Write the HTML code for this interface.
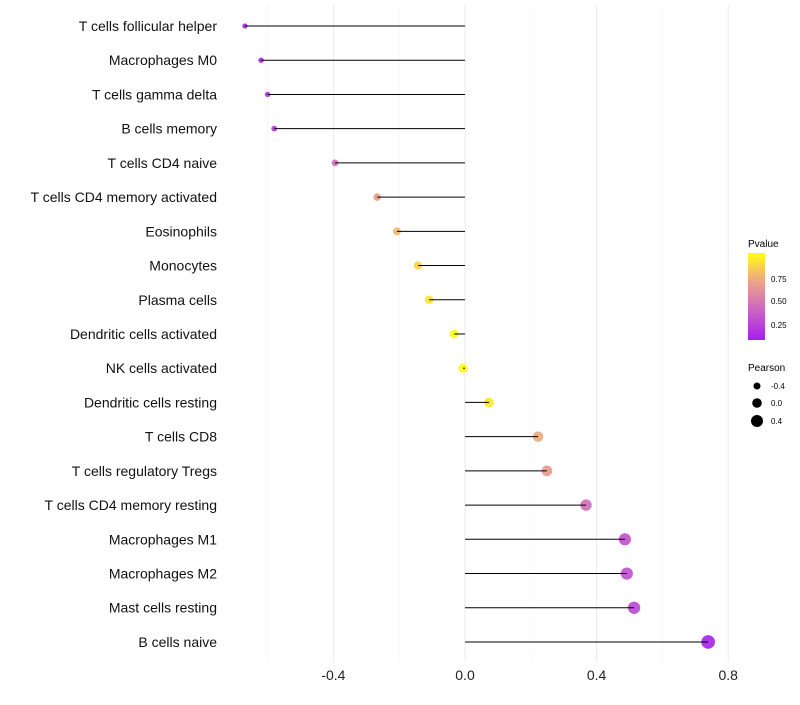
<!DOCTYPE html>
<html><head><meta charset="utf-8"><style>
body{margin:0;background:#fff;font-family:"Liberation Sans",sans-serif}
</style></head><body>
<svg id="chart" width="800" height="700" xmlns="http://www.w3.org/2000/svg" font-family="Liberation Sans, sans-serif">
<defs><linearGradient id="pg" x1="0" y1="1" x2="0" y2="0">
<stop offset="0" stop-color="#a41ff0"/><stop offset="0.35" stop-color="#cc66c0"/><stop offset="0.7" stop-color="#eeaa80"/><stop offset="1" stop-color="#ffff10"/></linearGradient></defs>
<g id="grid"></g><g id="dots"></g><g id="marks"></g><g id="labels"></g>
<g>
<text x="748" y="247" font-size="10">Pvalue</text>
<rect x="748" y="253" width="17" height="87" fill="url(#pg)"/>
<text x="771" y="282" font-size="8">0.75</text>
<text x="771" y="304" font-size="8">0.50</text>
<text x="771" y="328" font-size="8">0.25</text>
</g>
<g>
<text x="748" y="371" font-size="10">Pearson</text>
<circle cx="757" cy="386" r="3.5"/><text x="771" y="389" font-size="8">-0.4</text>
<circle cx="757" cy="403" r="4.8"/><text x="771" y="406" font-size="8">0.0</text>
<circle cx="757" cy="421" r="6"/><text x="771" y="424" font-size="8">0.4</text>
</g>
</svg>
<script>
const categories=["T cells follicular helper","Macrophages M0","T cells gamma delta","B cells memory","T cells CD4 naive","T cells CD4 memory activated","Eosinophils","Monocytes","Plasma cells","Dendritic cells activated","NK cells activated","Dendritic cells resting","T cells CD8","T cells regulatory  Tregs ","T cells CD4 memory resting","Macrophages M1","Macrophages M2","Mast cells resting","B cells naive"];
const pearson=[-0.669,-0.62,-0.60,-0.58,-0.395,-0.267,-0.207,-0.143,-0.109,-0.033,-0.006,0.073,0.222,0.249,0.368,0.486,0.492,0.514,0.739];
const pvalue=[0.05,0.1,0.12,0.15,0.4,0.65,0.75,0.85,0.9,0.97,0.99,0.92,0.7,0.62,0.4,0.25,0.25,0.2,0.03];
const ticks=[-0.4,0,0.4,0.8];
const tickLabels=["-0.4","0.0","0.4","0.8"];
const minor=[-0.6,-0.2,0.2,0.6];
const NS="http://www.w3.org/2000/svg";
const xs=v=>465+v*329;
const ys=i=>26+i*34.22;
function el(t,a,p){const e=document.createElementNS(NS,t);for(const k in a)e.setAttribute(k,a[k]);document.getElementById(p).appendChild(e);return e;}
function col(p){const st=[[0,[164,31,240]],[0.35,[204,102,192]],[0.7,[238,170,128]],[1,[255,255,16]]];
 for(let i=1;i<st.length;i++){if(p<=st[i][0]){const t=(p-st[i-1][0])/(st[i][0]-st[i-1][0]);const c=st[i-1][1].map((v,j)=>Math.round(v+(st[i][1][j]-v)*t));return `rgb(${c})`;}}return "rgb(255,255,16)";}
minor.forEach(v=>{const l=el('line',{x1:xs(v),x2:xs(v),y1:5,y2:662,stroke:'#f4f4f4','stroke-width':0.6},'grid');

});
ticks.forEach((v,i)=>{const l=el('line',{x1:xs(v),x2:xs(v),y1:5,y2:662,stroke:'#ebebeb','stroke-width':1},'grid');


const t=el('text',{x:xs(v),y:680,'font-size':14,'text-anchor':'middle',fill:'#222'},'labels');t.textContent=tickLabels[i];

});
categories.forEach((c,i)=>{const y=ys(i);
const t=el('text',{x:217,y:y+5,'font-size':14,'text-anchor':'end',fill:'#111'},'labels');t.textContent=c;


const r=Math.max(1.5,4.6+3*pearson[i]);
const d=el('circle',{cx:xs(pearson[i]),cy:y,r:r,fill:col(pvalue[i]),'fill-opacity':0.92},'dots');


const l=el('line',{x1:xs(0),x2:xs(pearson[i]),y1:y,y2:y,stroke:'#000','stroke-width':1},'marks');

});
</script>
</body></html>
